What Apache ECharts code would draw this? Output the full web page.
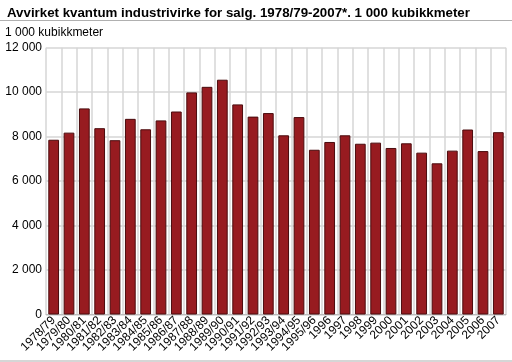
<!DOCTYPE html>
<html><head><meta charset="utf-8">
<script src="https://cdn.jsdelivr.net/npm/echarts@6/dist/echarts.min.js"></script>
<style>html,body{margin:0;padding:0;background:#fff}#c{width:512px;height:362px}</style>
</head><body><div id="c"></div>
<script>
const categories = ["1978/79","1979/80","1980/81","1981/82","1982/83","1983/84","1984/85","1985/86","1986/87","1987/88","1988/89","1989/90","1990/91","1991/92","1992/93","1993/94","1994/95","1995/96","1996","1997","1998","1999","2000","2001","2002","2003","2004","2005","2006","2007"];
const values = [7860,8180,9270,8380,7840,8800,8330,8730,9130,9990,10240,10560,9450,8900,9060,8060,8880,7410,7760,8060,7680,7730,7490,7700,7280,6800,7370,8320,7350,8200];
const titleText = "Avvirket kvantum industrivirke for salg. 1978/79-2007*. 1 000 kubikkmeter";
const unitText = "1 000 kubikkmeter";
const yTicks = {min:0, max:12000, interval:2000};

const FF = 'Liberation Sans, Arial, sans-serif';
const chart = echarts.init(document.getElementById('c'), null, {renderer:'canvas'});
const fmt = v => String(v).replace(/\B(?=(\d{3})+(?!\d))/g, ' ');
chart.setOption({
  animation:false,
  backgroundColor:'#fff',
  textStyle:{fontFamily:FF},
  title:{text:titleText,left:2,top:2,textStyle:{fontSize:13.3,fontWeight:'bold',color:'#000',fontFamily:FF}},
  graphic:[
    {type:'line',shape:{x1:0,y1:20.5,x2:512,y2:20.5},style:{stroke:'#b0b0b0',lineWidth:1}},
    {type:'line',shape:{x1:0,y1:361,x2:512,y2:361},style:{stroke:'#c8c8c8',lineWidth:1.5}},
    {type:'text',left:5,top:27,style:{text:unitText,fontSize:12,fill:'#000',fontFamily:FF}}
  ],
  grid:{left:46,right:6,top:47.7,bottom:47.5,containLabel:false},
  xAxis:{type:'category',data:categories,boundaryGap:true,
    axisLine:{show:true,lineStyle:{color:'#bbb'}},
    axisTick:{show:false},
    splitLine:{show:true,lineStyle:{color:'#d6d6d6',width:1.5}},
    axisLabel:{interval:0,rotate:45,fontSize:12,color:'#000',margin:4}},
  yAxis:{type:'value',min:yTicks.min,max:yTicks.max,interval:yTicks.interval,
    axisLine:{show:false},axisTick:{show:false},
    splitLine:{show:true,lineStyle:{color:'#d6d6d6',width:1.5}},
    axisLabel:{fontSize:12,color:'#000',formatter:fmt,margin:4}},
  series:[{type:'bar',data:values,barWidth:'70%',
    itemStyle:{color:'#971b20',borderColor:'#4a0b0d',borderWidth:1}}]
});
</script></body></html>
